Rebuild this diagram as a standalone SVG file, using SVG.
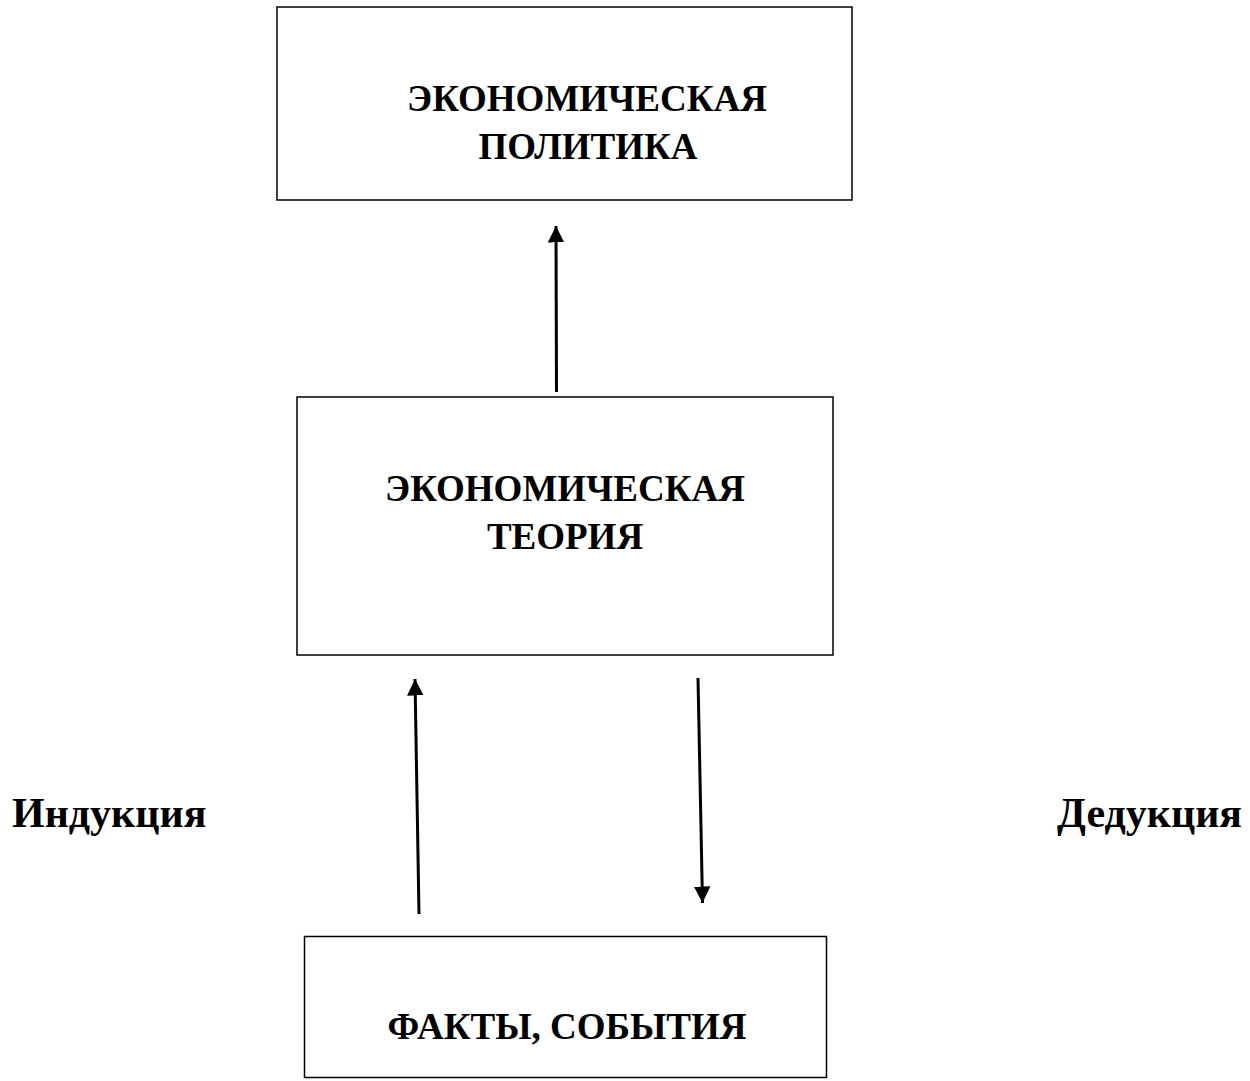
<svg xmlns="http://www.w3.org/2000/svg" width="1250" height="1081" viewBox="0 0 1250 1081">
<style>
.box{fill:#fff;stroke:#000;stroke-width:1.5}
.t{font-family:"Liberation Serif","Times New Roman",serif;font-size:37px;font-weight:bold;fill:#000;text-anchor:middle}
.b{font-family:"Liberation Serif","Times New Roman",serif;font-size:42px;font-weight:bold;fill:#000}
.c{stroke:#000;stroke-width:3;fill:none}
</style>
<defs>
<marker id="ah" viewBox="0 0 10 10" refX="10" refY="5" markerWidth="5.5" markerHeight="5.5" orient="auto" markerUnits="strokeWidth">
<path d="M0,0 L10,5 L0,10 z" fill="#000"/>
</marker>
</defs>
<rect width="1250" height="1081" fill="#fff"/>
<g id="node-policy">
<rect class="box" x="277" y="7" width="575" height="193"/>
<text class="t" x="587" y="111">ЭКОНОМИЧЕСКАЯ</text>
<text class="t" x="588" y="159">ПОЛИТИКА</text>
</g>
<g id="node-theory">
<rect class="box" x="297" y="397" width="536" height="258"/>
<text class="t" x="565" y="501">ЭКОНОМИЧЕСКАЯ</text>
<text class="t" x="565" y="549">ТЕОРИЯ</text>
</g>
<g id="node-facts">
<rect class="box" x="304.5" y="936.5" width="522" height="141"/>
<text class="t" x="567" y="1039">ФАКТЫ, СОБЫТИЯ</text>
</g>
<g id="label-induction">
<text class="b" x="12" y="827">Индукция</text>
</g>
<g id="label-deduction">
<text class="b" x="1057" y="827">Дедукция</text>
</g>
<g id="connectors">
<path class="c" d="M556.5,392 L556,226" marker-end="url(#ah)"/>
<path class="c" d="M419,914 L415,679" marker-end="url(#ah)"/>
<path class="c" d="M698,678 L702.5,903" marker-end="url(#ah)"/>
</g>
</svg>
